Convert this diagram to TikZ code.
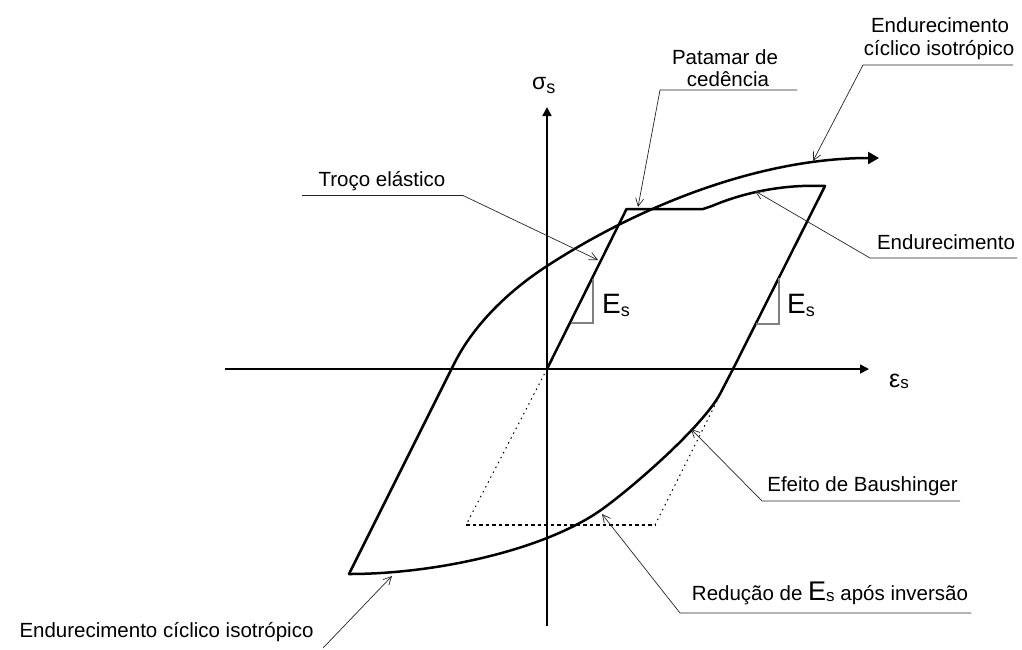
\documentclass[tikz,border=0pt]{standalone}
\usepackage{fontspec}
\setmainfont{Liberation Sans}
\usetikzlibrary{arrows.meta}
\newcommand{\SlopeE}{{\fontsize{28}{28}\selectfont E}\raisebox{-3pt}{\fontsize{18}{18}\selectfont s}}
\newcommand{\SlopeEr}{{\fontsize{27}{27}\selectfont E}\raisebox{-1pt}{\fontsize{17}{17}\selectfont s}}
\begin{document}
\begin{tikzpicture}[x=1pt,y=-1pt,
  curve/.style={line width=2.5pt, line join=round, line cap=round},
  axis/.style={line width=1.6pt, -{Triangle[length=9pt,width=9pt]}},
  leadarrow/.style={line width=0.7pt, draw=black!85, line join=miter, -{Straight Barb[length=8pt,width=8pt]}},
  slopebox/.style={line width=1.3pt, draw=black!50},
  lbl/.style={font=\fontsize{20.5}{23}\selectfont, inner sep=0pt, anchor=base},
  sym/.style={inner sep=0pt, anchor=base west},
  dotslant/.style={line width=1pt, dash pattern=on 1.5pt off 4pt},
  dotflat/.style={line width=1.5pt, dash pattern=on 3.5pt off 3pt}]
\useasboundingbox (0,0) rectangle (1022,649);
\fill[white] (0,0) rectangle (1022,649);

% axes
\coordinate (vbot) at (547,626);
\coordinate (vtop) at (547,107);
\coordinate (hleft) at (225,369);
\coordinate (hright) at (869,369);
\draw[axis] (vbot) -- (vtop);
\draw[axis] (hleft) -- (hright);
\node[sym] (sig) at (532,89) {{\fontsize{23}{23}\selectfont σ}\raisebox{-4pt}{\fontsize{18}{18}\selectfont s}};
\node[sym] (eps) at (889,387) {{\fontsize{25}{25}\selectfont ε}\raisebox{-1pt}{\fontsize{17}{17}\selectfont s}};

% key points of the loop
\coordinate (O) at (547,369);
\coordinate (Y1) at (626.5,209);
\coordinate (Y2) at (703,209);
\coordinate (Y3) at (712,206);
\coordinate (T) at (825,186);
\coordinate (A) at (733,369);
\coordinate (B) at (720,394);
\coordinate (M2) at (601,510);
\coordinate (C) at (349,574);
\coordinate (L) at (455,362);
\coordinate (M) at (547,266);
\coordinate (E) at (879,158);

% dotted reduced-modulus path
\coordinate (D1) at (466,525);
\coordinate (D2) at (655,525);
\draw[dotslant] (O) -- (D1);
\draw[dotflat] (D1) -- (D2);
\draw[dotslant] (D2) -- (A);

% main loop
\draw[curve] (O) -- (Y1) -- (Y2) -- (Y3) .. controls (740,194) and (780,184) .. (T) -- (A) -- (B)
  .. controls (702,427) and (632,488) .. (M2)
  .. controls (544,550) and (436,574) .. (C);
\draw[curve, -{Triangle[length=11pt,width=12pt]}] (C) -- (L)
  .. controls (475,323) and (510,290) .. (M)
  .. controls (644,203) and (763,158) .. (E);

% slope triangles
\draw[slopebox] (593,279) -- (593,323) -- (571,323);
\node[sym] (esl) at (602,313) {\SlopeE};
\draw[slopebox] (779,278) -- (779,324) -- (756,324);
\node[sym] (esr) at (787,313) {\SlopeE};

% labels
\node[lbl] (troco) at (382,186) {Troço elástico};
\node[lbl] (pat1) at (725,64) {Patamar de};
\node[lbl] (pat2) at (728,86) {cedência};
\node[lbl] (eci1) at (940,32) {Endurecimento};
\node[lbl] (eci2) at (939,55) {cíclico isotrópico};
\node[lbl] (endr) at (946,249) {Endurecimento};
\node[lbl] (baus) at (862.5,491) {Efeito de Baushinger};
\node[lbl] (red) at (830,600) {Redução de \SlopeEr\ após inversão};
\node[lbl] (eci3) at (166.5,637) {Endurecimento cíclico isotrópico};

% leaders
\coordinate (ta) at (302,195.5); \coordinate (tb) at (463,195.5); \coordinate (tc) at (598,260);
\draw[leadarrow] (ta) -- (tb) -- (tc);
\coordinate (pa) at (797,90); \coordinate (pb) at (660,90); \coordinate (pc) at (638,207);
\draw[leadarrow] (pa) -- (pb) -- (pc);
\coordinate (ea) at (1013,65); \coordinate (eb) at (863,65); \coordinate (ec) at (813,161);
\draw[leadarrow] (ea) -- (eb) -- (ec);
\coordinate (ra) at (1017,258); \coordinate (rb) at (870,258); \coordinate (rc) at (755,191);
\draw[leadarrow] (ra) -- (rb) -- (rc);
\coordinate (ba) at (960,501); \coordinate (bb) at (762,501); \coordinate (bc) at (691,429);
\draw[leadarrow] (ba) -- (bb) -- (bc);
\coordinate (da) at (971,613); \coordinate (db) at (680,613); \coordinate (dc) at (602,514);
\draw[leadarrow] (da) -- (db) -- (dc);
\coordinate (la) at (323,648); \coordinate (lc) at (392,576);
\draw[leadarrow] (la) -- (lc);
\end{tikzpicture}
\end{document}
